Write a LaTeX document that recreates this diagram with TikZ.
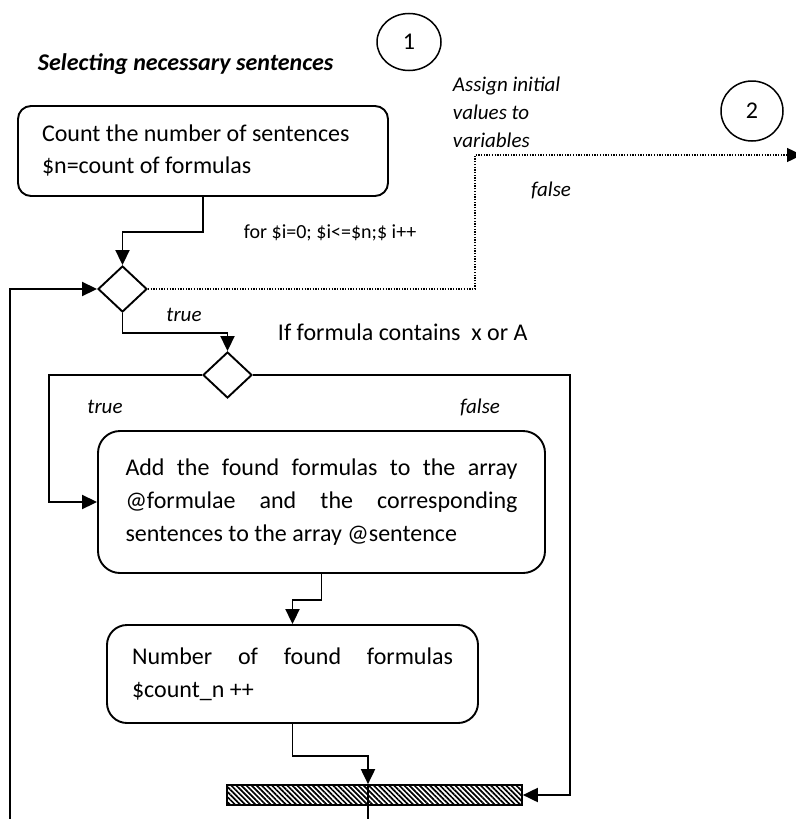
\documentclass[tikz,border=0pt]{standalone}
\usepackage{fontspec}
\setmainfont{Carlito}
\usetikzlibrary{arrows.meta,shapes.geometric,patterns.meta}
\hyphenpenalty=10000
\exhyphenpenalty=10000
\tolerance=10000
\hbadness=10000

\begin{document}
\begin{tikzpicture}[x=1pt,y=-1pt,
  line width=1.9pt,
  arr/.style={draw, line width=1.9pt, -{Triangle[length=15pt,width=14pt]}},
  dotarr/.style={draw, line width=1.4pt, dash pattern=on 1.3pt off 1.4pt,
    -{Triangle[length=15pt,width=14pt]}},
  box/.style={draw, line width=1.9pt, inner ysep=0pt,
    font=\fontsize{24}{33}\selectfont},
  cond/.style={draw, diamond, aspect=1, inner sep=0pt, line width=1.9pt,
    minimum width=49pt, minimum height=46pt},
  pagemark/.style={draw, ellipse, inner sep=0pt, line width=1.5pt,
    font=\fontsize{24}{24}\selectfont},
  lbl/.style={inner sep=0pt, font=\fontsize{21}{28}\selectfont\itshape},
  note/.style={inner sep=0pt, font=\fontsize{20}{28}\selectfont},
  question/.style={inner sep=0pt, font=\fontsize{24}{28}\selectfont}
]
\useasboundingbox (0,0) rectangle (795,819);

% headings and connector marks
\node[inner sep=0pt, anchor=west, font=\fontsize{24}{24}\selectfont\bfseries\itshape]
  (title) at (37,64) {Selecting necessary sentences};
\node[pagemark, minimum width=64pt, minimum height=57pt] (c1) at (409,42) {1};
\node[pagemark, minimum width=62pt, minimum height=60pt] (c2) at (752,111) {2};
\node[lbl, anchor=west, align=left] (init) at (452,112)
  {Assign initial\\values to\\variables};

% process boxes
\node[box, rounded corners=13pt, text width=322pt, inner xsep=24pt,
  minimum height=90pt, align=flush left, font=\fontsize{24}{32}\selectfont]
  (b1) at (203,151) {Count the number of sentences\\\$n=count of formulas};
\node[box, rounded corners=22pt, text width=392pt, inner xsep=27.5pt,
  minimum height=142pt, align=justify]
  (b2) at (321.5,502) {Add the found formulas to the array @formulae and the
  corresponding sentences to the array @sentence};
\node[box, rounded corners=20pt, text width=321pt, inner xsep=25pt,
  minimum height=98pt, align=justify]
  (b3) at (292.5,674) {Number of found formulas \$count\_n ++};

% decisions
\node[cond] (d1) at (122.5,289) {};
\node[cond] (d2) at (227.5,375) {};

% merge bar
\node[draw, line width=1.3pt, inner sep=0pt, minimum width=295pt,
  minimum height=20pt,
  pattern={Lines[angle=-45,distance=3.6pt,line width=1.7pt]}]
  (bar) at (374.5,795) {};

% labels
\node[note, anchor=west] (loop) at (243,233) {for \$i=0; \$i<=\$n;\$ i++};
\node[lbl] (f1) at (551,190) {false};
\node[lbl] (t1) at (184,315) {true};
\node[question, anchor=west] (q2) at (277,332) {If formula contains\ \ x or A};
\node[lbl] (t2) at (105,407) {true};
\node[lbl] (f2) at (480,407) {false};

% free ends
\coordinate (loopin) at (10,822);
\coordinate (turn) at (475,155);
\coordinate (out2) at (802,155);
\coordinate (barout) at (368,822);

% connectors
\draw[arr] (b1.south) -- ++(0,35) -| (d1.north);
\draw[arr] (loopin) |- (d1.west);
\draw[dotarr] (d1.east) -| (turn) -- (out2);
\draw[arr] (d1.south) -- ++(0,20) -| (d2.north);
\draw[arr] (d2.west) -- ++(-153,0) |- (b2.west);
\draw[arr] (d2.east) -- ++(317,0) |- (bar.east);
\draw[arr] (b2.south) -- ++(0,26) -| (b3.north);
\draw[arr] (b3.south) -- ++(0,32) -| ([xshift=-6.5pt]bar.north);
\draw ([xshift=-6.5pt]bar.north) -- (barout);
\end{tikzpicture}
\end{document}
